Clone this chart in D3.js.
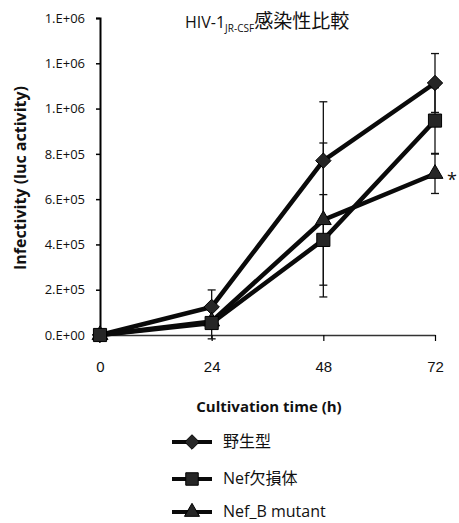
<!DOCTYPE html>
<html>
<head>
<meta charset="utf-8">
<script src="https://cdn.jsdelivr.net/npm/d3@7"></script>
<style>
  body { margin: 0; background: #fff; }
  svg { font-family: "Open Sans", "Noto Sans CJK JP", sans-serif; }
</style>
</head>
<body>
<script>
// datos
var horas = [0, 24, 48, 72]
var seriesNombres = ["野生型", "Nef欠損体", "Nef_B mutant"]
var simbolos = ["diamond", "square", "triangle"]
var valWild = [0, 124000, 770000, 1113000]
var errWild = [0, 75000, 260000, 130000]
var valNef = [0, 53000, 420000, 947000]
var errNef = [0, 70000, 200000, 145000]
var valB = [0, 60000, 508000, 712000]
var errB = [0, 0, 340000, 87000]
var yTicks = [0, 200000, 400000, 600000, 800000, 1000000, 1200000, 1400000]
var yTickLabels = ["0.E+00", "2.E+05", "4.E+05", "6.E+05", "8.E+05", "1.E+06", "1.E+06", "1.E+06"]

var W = 459, H = 523

var svg = d3.select("body").append("svg")
    .attr("width", W)
    .attr("height", H)

var x = d3.scaleLinear().domain([0, 72]).range([100, 435])
var y = d3.scaleLinear().domain([0, 1400000]).range([335, 18])

// EJE Y
var ejeY = svg.append("g")
    .attr("transform", "translate(100,0)")
    .call(d3.axisLeft(y).tickValues(yTicks).tickSize(4).tickPadding(11)
        .tickFormat((d, i) => yTickLabels[i]))
ejeY.select(".domain").attr("stroke", "#000").attr("stroke-width", 2)
ejeY.selectAll(".tick line").attr("stroke-width", 1.5)
ejeY.selectAll("text").attr("font-size", 13).attr("fill", "#111")
    .attr("font-family", "Open Sans")

// EJE X
var ejeX = svg.append("g")
    .attr("transform", "translate(0,335)")
    .call(d3.axisBottom(x).tickValues(horas).tickSize(6).tickSizeOuter(0).tickPadding(20))
ejeX.select(".domain").attr("stroke", "#333").attr("stroke-width", 1.5)
ejeX.selectAll(".tick line").attr("stroke-width", 1.2)
ejeX.selectAll("text").attr("font-size", 15).attr("fill", "#111")

// titulo
var titulo = svg.append("text")
    .attr("x", 185)
    .attr("y", 28)
    .attr("font-size", 16)
    .attr("fill", "#111")
titulo.append("tspan").text("HIV-1")
titulo.append("tspan").attr("font-size", 10).attr("dy", 4).text("JR-CSF")
titulo.append("tspan").attr("font-size", 19).attr("dy", -4)
    .attr("font-family", "Noto Sans CJK JP").text("感染性比較")

svg.append("text")
    .attr("transform", "translate(26,178) rotate(-90)")
    .attr("text-anchor", "middle")
    .attr("font-size", 16)
    .attr("font-weight", "bold")
    .attr("fill", "#111")
    .text("Infectivity (luc activity)")

svg.append("text")
    .attr("x", 269)
    .attr("y", 412)
    .attr("text-anchor", "middle")
    .attr("font-size", 15)
    .attr("font-weight", "bold")
    .attr("fill", "#111")
    .text("Cultivation time (h)")

var tipos = {
    diamond: d3.symbolDiamond2,
    square: d3.symbolSquare2,
    triangle: d3.symbolTriangle2
}
var tamanos = { diamond: 150, square: 220, triangle: 180 }

var series = [
    { nombre: seriesNombres[0], sim: simbolos[0], v: valWild, e: errWild },
    { nombre: seriesNombres[1], sim: simbolos[1], v: valNef, e: errNef },
    { nombre: seriesNombres[2], sim: simbolos[2], v: valB, e: errB }
]

var linea = d3.line()
    .x(d => x(d.h))
    .y(d => y(d.v))

// barras de error
series.forEach(function (s) {
    var pts = horas.map((h, i) => ({ h: h, v: s.v[i], e: s.e[i] })).filter(d => d.e > 0)
    var g = svg.append("g").attr("stroke", "#111").attr("stroke-width", 1.3)
    g.selectAll("line.v").data(pts).enter().append("line")
        .attr("x1", d => x(d.h)).attr("x2", d => x(d.h))
        .attr("y1", d => y(d.v - d.e)).attr("y2", d => y(d.v + d.e))
    g.selectAll("line.a").data(pts).enter().append("line")
        .attr("x1", d => x(d.h) - 4).attr("x2", d => x(d.h) + 4)
        .attr("y1", d => y(d.v + d.e)).attr("y2", d => y(d.v + d.e))
    g.selectAll("line.b").data(pts).enter().append("line")
        .attr("x1", d => x(d.h) - 4).attr("x2", d => x(d.h) + 4)
        .attr("y1", d => y(d.v - d.e)).attr("y2", d => y(d.v - d.e))
})

// lineas
series.forEach(function (s) {
    var pts = horas.map((h, i) => ({ h: h, v: s.v[i] }))
    svg.append("path")
        .datum(pts)
        .attr("fill", "none")
        .attr("stroke", "#0a0a0a")
        .attr("stroke-width", 4.5)
        .attr("d", linea)
})

// marcadores (cuadrados al final)
var orden = [series[0], series[2], series[1]]
orden.forEach(function (s) {
    var pts = horas.map((h, i) => ({ h: h, v: s.v[i] }))
    svg.append("g").selectAll("path")
        .data(pts)
        .enter()
        .append("path")
        .attr("transform", d => "translate(" + x(d.h) + "," + y(d.v) + ")")
        .attr("d", d3.symbol().type(tipos[s.sim]).size(tamanos[s.sim]))
        .attr("fill", "#262626")
        .attr("stroke", "#000")
        .attr("stroke-width", 1)
})

svg.append("text")
    .attr("x", 447)
    .attr("y", 186)
    .attr("font-size", 18)
    .attr("fill", "#111")
    .text("*")

// leyenda
var leyY = [442, 479, 512]
series.forEach(function (s, i) {
    var g = svg.append("g").attr("transform", "translate(0," + leyY[i] + ")")
    g.append("line")
        .attr("x1", 172).attr("x2", 212)
        .attr("stroke", "#0a0a0a").attr("stroke-width", 4)
    g.append("path")
        .attr("transform", "translate(192,0)")
        .attr("d", d3.symbol().type(tipos[s.sim]).size(tamanos[s.sim] * 0.9))
        .attr("fill", "#262626")
        .attr("stroke", "#000")
    g.append("text")
        .attr("x", 223)
        .attr("y", 5)
        .attr("font-size", 16)
        .attr("fill", "#111")
        .text(s.nombre)
})
</script>
</body>
</html>
